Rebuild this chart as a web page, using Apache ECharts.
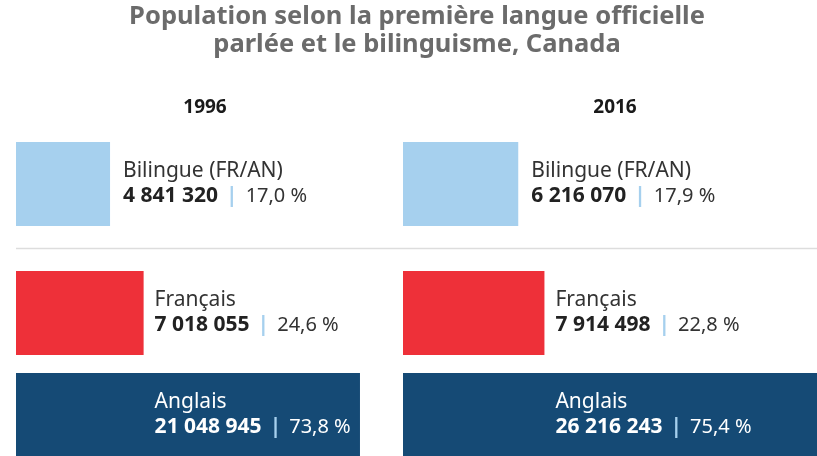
<!DOCTYPE html>
<html>
<head>
<meta charset="utf-8">
<script src="https://cdn.jsdelivr.net/npm/echarts@6/dist/echarts.min.js"></script>
<style>
html, body { margin: 0; padding: 0; background: #fff; }
#main { width: 817px; height: 456px; }
</style>
</head>
<body>
<div id="main"></div>
<script>
// données
var annees = ['1996', '2016'];
var categories = ['Bilingue (FR/AN)', 'Français', 'Anglais'];
var pop1996 = [4841320, 7018055, 21048945];
var pop2016 = [6216070, 7914498, 26216243];
var pct1996 = [17.0, 24.6, 73.8];
var pct2016 = [17.9, 22.8, 75.4];
var couleurs = ['#a6d0ee', '#ee3039', '#154a75'];

var pops = [pop1996, pop2016];
var pcts = [pct1996, pct2016];

// mise en page : une grille par barre (2 colonnes x 3 lignes)
var colLeft = [16, 403];
var colWidth = [380, 414];
var anneeX = [205, 615];
var rowTop = [142, 271, 374];
var rowHeight = 84;
var axisStart = -1258000;          // les barres partent un peu avant zéro
var pxParUnite = 15.42 / 1e6;       // même échelle pour les deux colonnes
var police = '"Noto Sans", sans-serif';

function formatNombre(n) {
	return String(n).replace(/\B(?=(\d{3})+(?!\d))/g, ' ');
}
function formatPct(v) {
	return v.toFixed(1).replace('.', ',') + ' %';
}

var grids = [], xAxes = [], yAxes = [], series = [];
for (var c = 0; c < 2; c++) {
	for (var r = 0; r < 3; r++) {
		var idx = grids.length;
		var anglais = r === 2;
		grids.push({ left: colLeft[c], top: rowTop[r], width: colWidth[c], height: rowHeight });
		xAxes.push({
			gridIndex: idx, type: 'value', show: false,
			min: axisStart, max: axisStart + colWidth[c] / pxParUnite,
			startValue: axisStart
		});
		yAxes.push({ gridIndex: idx, type: 'category', show: false, data: [categories[r]] });
		var txt = anglais ? '#ffffff' : '#333333';
		var label = {
			show: true,
			formatter: '{n|' + categories[r] + '}\n{v|' + formatNombre(pops[c][r]) + '}{s||}{p|' + formatPct(pcts[c][r]) + '}',
			rich: {
				n: { fontFamily: police, fontSize: 21, lineHeight: 25, color: txt },
				v: { fontFamily: police, fontSize: 21, lineHeight: 25, fontWeight: 'bold', color: anglais ? '#ffffff' : '#222222' },
				s: { fontFamily: police, fontSize: 21, lineHeight: 25, fontWeight: 'bold', color: '#a6d0ee', padding: [0, 8, 0, 8] },
				p: { fontFamily: police, fontSize: 20, lineHeight: 25, color: txt }
			}
		};
		if (anglais) {
			// aligné sur le texte de la ligne Français
			label.position = [(pops[c][1] - axisStart) * pxParUnite + 11, '50%'];
			label.align = 'left';
			label.verticalAlign = 'middle';
		} else {
			label.position = 'right';
			label.distance = r === 0 ? 13 : 11;
		}
		series.push({
			type: 'bar',
			xAxisIndex: idx,
			yAxisIndex: idx,
			data: [pops[c][r]],
			barWidth: rowHeight,
			clip: false,
			silent: true,
			itemStyle: { color: couleurs[r] },
			label: label
		});
	}
}

var graphics = [{
	type: 'line',
	shape: { x1: 16, y1: 248.5, x2: 817, y2: 248.5 },
	style: { stroke: '#dddddd', lineWidth: 1.5 }
}];
for (var i = 0; i < annees.length; i++) {
	graphics.push({
		type: 'text',
		x: anneeX[i],
		y: 98,
		style: {
			text: annees[i],
			fontFamily: police,
			fontSize: 19,
			fontWeight: 'bold',
			fill: '#1a1a1a',
			align: 'center'
		}
	});
}

var chart = echarts.init(document.getElementById('main'));
chart.setOption({
	animation: false,
	title: {
		text: 'Population selon la première langue officielle\nparlée et le bilinguisme, Canada',
		left: 417,
		top: 0,
		textAlign: 'center',
		padding: [3, 0, 0, 0],
		textStyle: {
			fontFamily: police,
			fontSize: 25.5,
			fontWeight: 'bold',
			lineHeight: 28,
			color: '#6b6b6b'
		}
	},
	grid: grids,
	xAxis: xAxes,
	yAxis: yAxes,
	series: series,
	graphic: graphics
});
</script>
</body>
</html>
